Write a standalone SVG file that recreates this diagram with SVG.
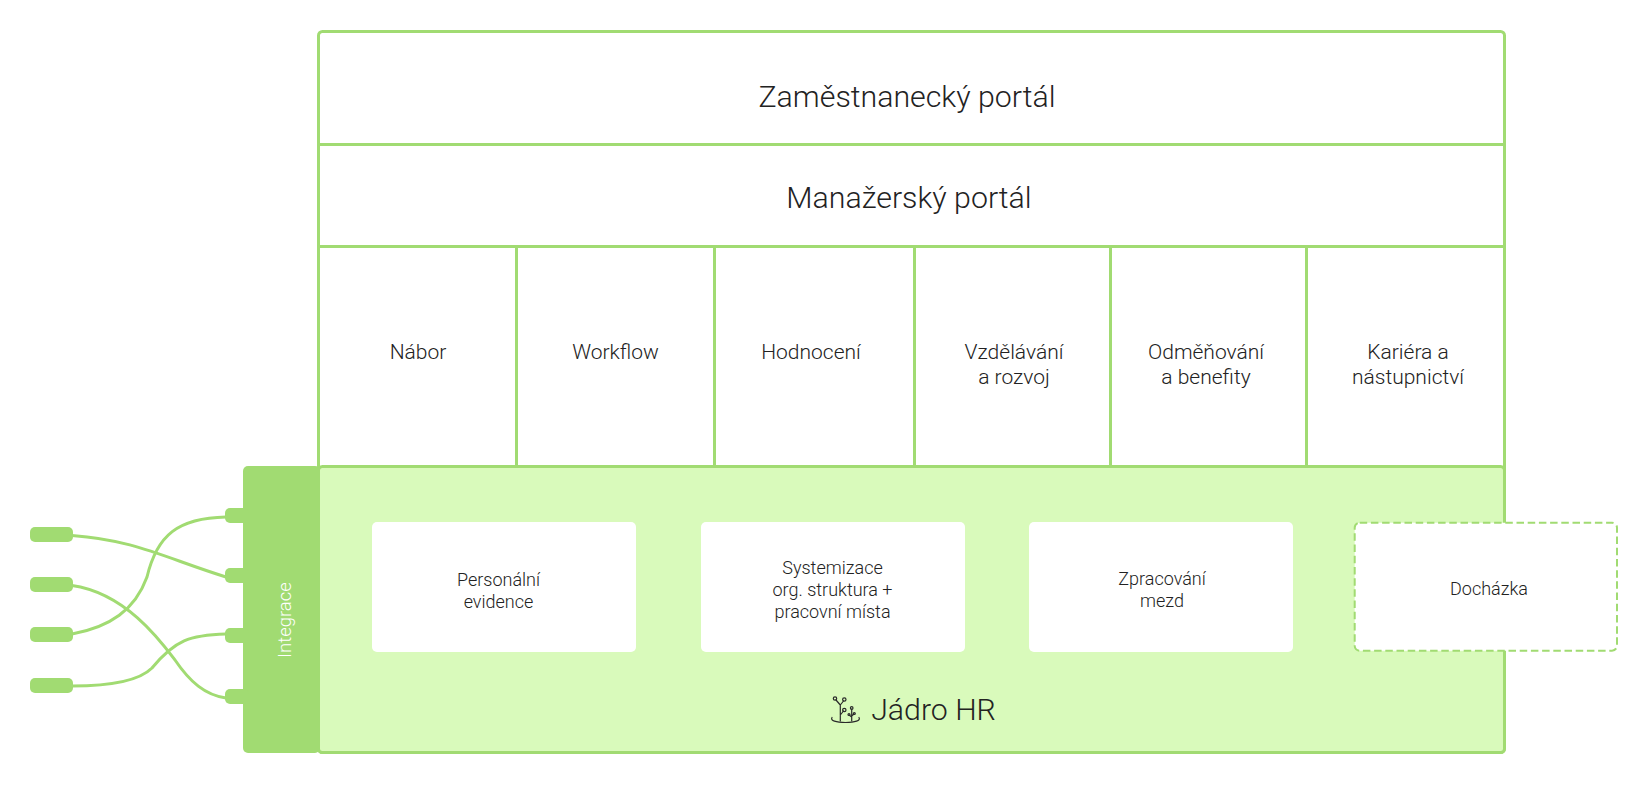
<svg xmlns="http://www.w3.org/2000/svg" width="1652" height="792" viewBox="0 0 1652 792">
<style>
text{font-family:Roboto,"Noto Sans",sans-serif;font-weight:300;fill:#222;text-anchor:middle}
.l{font-size:30.300px}.m{font-size:21px}.s{font-size:18px}
.cell{fill:#fff;stroke:#a1db72;stroke-width:3}
.g{fill:#a1db72}
.b{fill:#fff}
.c{fill:none;stroke:#a1db72;stroke-width:3}
</style>
<rect width="1652" height="792" fill="#fff"/>
<g id="portal-frame"><rect class="cell" x="318.5" y="31.5" width="1186" height="721" rx="4"/></g>
<g id="zamestnanecky"><text class="l" x="907" y="107">Zaměstnanecký portál</text></g>
<g id="manazersky"><path class="c" d="M318.5 144.500H1504.500"/><text class="l" x="909" y="208">Manažerský portál</text></g>
<g id="nabor"><path class="c" d="M318.500 246.500H1504.500"/><text class="m" x="418" y="358.500">Nábor</text></g>
<g id="workflow"><path class="c" d="M516.500 246.500V466"/><text class="m" x="615.500" y="358.500">Workflow</text></g>
<g id="hodnoceni"><path class="c" d="M714.500 246.500V466"/><text class="m" x="811" y="358.500">Hodnocení</text></g>
<g id="vzdelavani"><path class="c" d="M914.500 246.500V466"/><text class="m" x="1014" y="358.500">Vzdělávání</text><text class="m" x="1014" y="383.500">a rozvoj</text></g>
<g id="odmenovani"><path class="c" d="M1110.500 246.500V466"/><text class="m" x="1206" y="358.500">Odměňování</text><text class="m" x="1206" y="383.500">a benefity</text></g>
<g id="kariera"><path class="c" d="M1306.500 246.500V466"/><text class="m" x="1408" y="358.500">Kariéra a</text><text class="m" x="1408" y="383.500">nástupnictví</text></g>
<g id="jadro">
<rect x="318.500" y="466.500" width="1186" height="286" rx="4" fill="#d9fabb" stroke="#a1db72" stroke-width="3"/>
<g fill="none" stroke="#2a2a2a" stroke-width="1.200" stroke-linecap="round">
<path d="M840.300 721V705M840.300 705L836 700M840.300 705L843.500 701M840.300 715L843.500 711M851.700 721V709M851.700 717L849 715M851.700 716L854 714" />
<circle cx="835" cy="698.500" r="1.700"/><circle cx="844.300" cy="699.500" r="1.700"/><circle cx="844.300" cy="710" r="1.700"/><circle cx="851.700" cy="708" r="1.300"/><circle cx="849" cy="714.500" r="1"/><circle cx="854.300" cy="713.500" r="1"/>
<path d="M832 717.500C830 720.500 836 722.500 845.500 722.500C855 722.500 861 720.500 859 717.500"/>
</g>
<text x="933.500" y="720" style="font-size:30.300px">Jádro HR</text>
</g>
<g id="personalni"><rect class="b" x="372" y="522" width="264" height="130" rx="5"/><text class="s" x="498.500" y="586">Personální</text><text class="s" x="498.500" y="608">evidence</text></g>
<g id="systemizace"><rect class="b" x="701" y="522" width="264" height="130" rx="5"/><text class="s" x="832.500" y="574">Systemizace</text><text class="s" x="832.500" y="596">org. struktura +</text><text class="s" x="832.500" y="618">pracovní místa</text></g>
<g id="mzdy"><rect class="b" x="1029" y="522" width="264" height="130" rx="5"/><text class="s" x="1162" y="585">Zpracování</text><text class="s" x="1162" y="607">mezd</text></g>
<g id="dochazka"><rect x="1354.700" y="522.700" width="262.300" height="128" rx="5" fill="#fff" stroke="#a1db72" stroke-width="2" stroke-dasharray="7.500 3.700"/><text class="s" x="1489" y="595">Docházka</text></g>
<g id="integrace">
<rect class="g" x="243" y="466" width="77" height="287" rx="5"/>
<rect class="g" x="225" y="508" width="24" height="15" rx="5"/>
<rect class="g" x="225" y="568" width="24" height="15" rx="5"/>
<rect class="g" x="225" y="628" width="24" height="15" rx="5"/>
<rect class="g" x="225" y="689" width="24" height="15" rx="5"/>
<text x="291" y="620" transform="rotate(-90 291 620)" style="fill:#fff;font-size:18.500px">Integrace</text>
</g>
<g id="src-1"><rect class="g" x="30" y="527" width="43" height="15" rx="5"/></g>
<g id="src-2"><rect class="g" x="30" y="577" width="43" height="15" rx="5"/></g>
<g id="src-3"><rect class="g" x="30" y="627" width="43" height="15" rx="5"/></g>
<g id="src-4"><rect class="g" x="30" y="678" width="43" height="15" rx="5"/></g>
<g id="connectors">
<path class="c" d="M72 535.500C135 540 165 558 226 577"/>
<path class="c" d="M72 585.500C125 593 160 640 175 660C190 682 205 695 226 698"/>
<path class="c" d="M72 634C110 627 135 610 147 577C157 535 178 518 226 517"/>
<path class="c" d="M72 686C115 686 140 680 152 668C175 640 190 635 226 634"/>
</g>
</svg>
